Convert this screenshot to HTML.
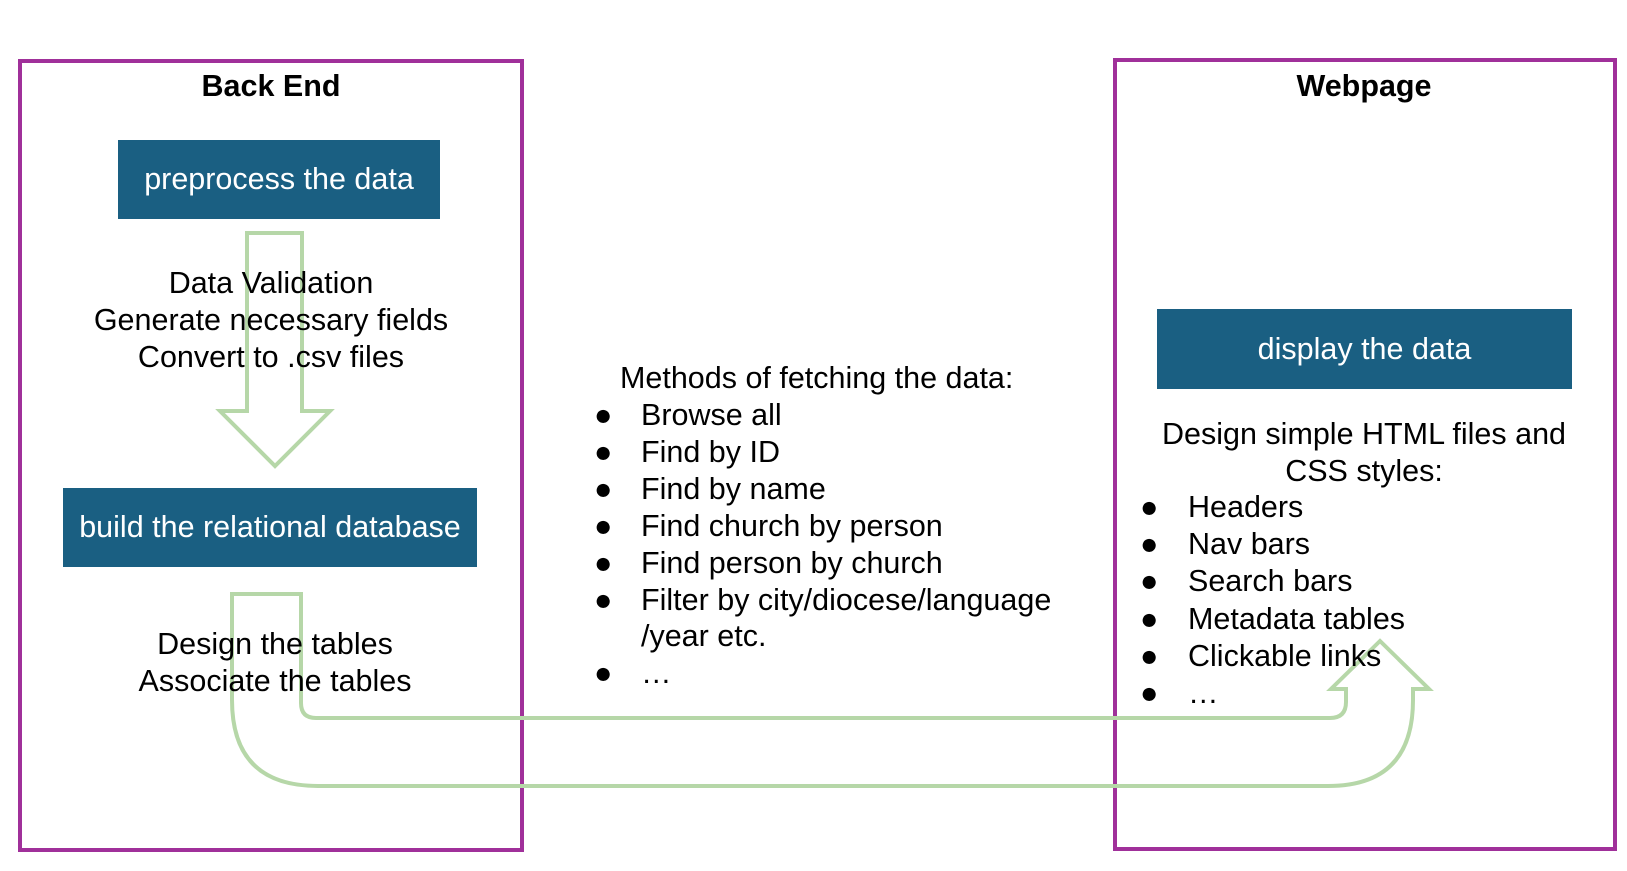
<!DOCTYPE html>
<html><head><meta charset="utf-8"><style>
html,body{margin:0;padding:0;background:#fff;}
body{width:1627px;height:871px;position:relative;overflow:hidden;font-family:"Liberation Sans",sans-serif;color:#000;}
.t{position:absolute;white-space:nowrap;font-size:30.5px;line-height:37px;}
.c{transform:translateX(-50%);text-align:center;}
.box{position:absolute;background:#1a5f82;color:#fff;font-size:30.5px;display:flex;align-items:center;justify-content:center;}
.b{font-weight:bold;font-size:30.5px;}
</style></head><body>
<svg width="1627" height="871" style="position:absolute;left:0;top:0">
<rect x="20" y="61" width="502" height="789" fill="none" stroke="#a0309a" stroke-width="4"/>
<rect x="1115" y="60" width="500" height="789" fill="none" stroke="#a0309a" stroke-width="4"/>
<path d="M247 233 L302 233 L302 411 L330 411 L275 466 L220 411 L247 411 Z" fill="none" stroke="#b6d7a8" stroke-width="4"/>
<path d="M232 594 L232 700 Q232 786 318 786 L1328 786 Q1413 786 1413 700 L1413 689 L1429 689 L1380 641 L1331 689 L1346 689 L1346 702 Q1346 718 1330 718 L316 718 Q301 718 301 703 L301 594 Z" fill="none" stroke="#b6d7a8" stroke-width="4"/>
</svg>
<div class="t c b" style="left:271px;top:68px">Back End</div>
<div class="t c b" style="left:1364px;top:68px">Webpage</div>
<div class="box" style="left:118px;top:140px;width:322px;height:79px">preprocess the data</div>
<div class="box" style="left:63px;top:488px;width:414px;height:79px">build the relational database</div>
<div class="box" style="left:1157px;top:309px;width:415px;height:80px">display the data</div>
<div class="t c" style="left:271px;top:265px">Data Validation<br>Generate necessary fields<br>Convert to .csv files</div>
<div class="t c" style="left:275px;top:626px">Design the tables<br>Associate the tables</div>
<div class="t" style="left:620px;top:360px">Methods of fetching the data:</div>
<div class="t" style="left:594px;top:397px;line-height:36.9px">●<br>●<br>●<br>●<br>●<br>●<br><br>●</div>
<div class="t" style="left:641px;top:397px;line-height:36.9px">Browse all<br>Find by ID<br>Find by name<br>Find church by person<br>Find person by church<br>Filter by city/diocese/language<br>/year etc.<br>…</div>
<div class="t c" style="left:1364px;top:416px">Design simple HTML files and<br>CSS styles:</div>
<div class="t" style="left:1140px;top:489px;line-height:37.2px">●<br>●<br>●<br>●<br>●<br>●</div>
<div class="t" style="left:1188px;top:489px;line-height:37.2px">Headers<br>Nav bars<br>Search bars<br>Metadata tables<br>Clickable links<br>…</div>
</body></html>
